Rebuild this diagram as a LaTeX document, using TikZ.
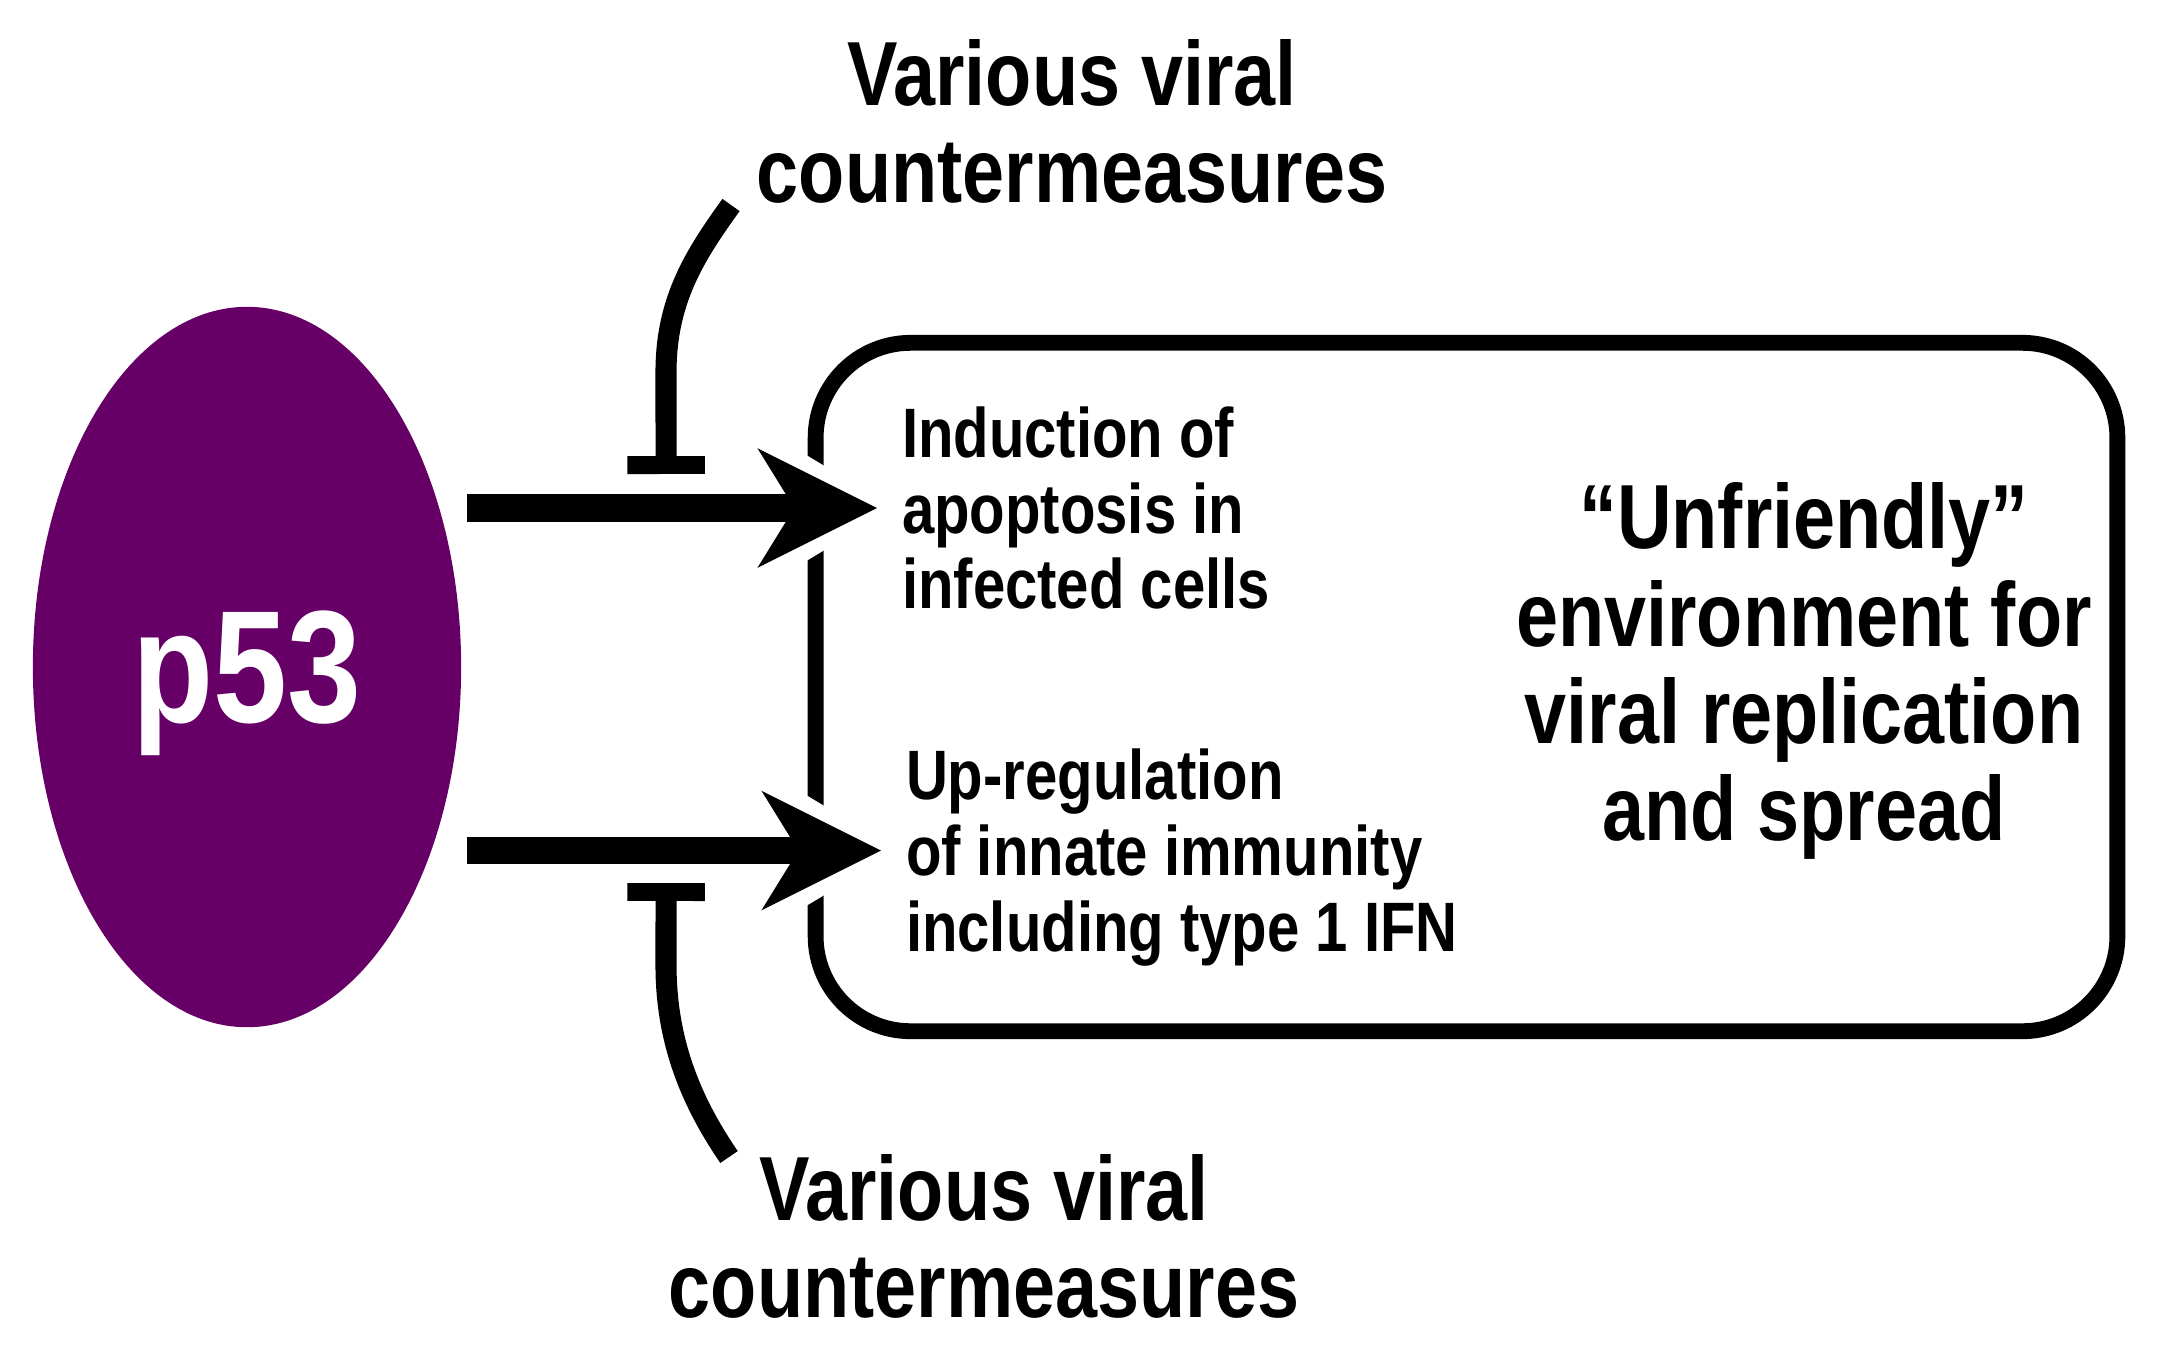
\documentclass[tikz,border=0pt]{standalone}
\usepackage{fontspec}
\setmainfont{Liberation Sans}[FakeStretch=0.83]
\usetikzlibrary{arrows.meta,shapes.geometric}
\definecolor{ppurple}{HTML}{660066}
\begin{document}
\begin{tikzpicture}[x=0.01cm,y=-0.01cm,
    txt/.style={inner sep=0pt, font=\bfseries\fontsize{19.9}{21.6}\selectfont, align=left},
    big/.style={inner sep=0pt, font=\bfseries\fontsize{25.9}{27.6}\selectfont, align=center},
    act/.style={line width=7.7pt, -{Stealth[length=34pt,width=34pt,inset=10.5pt,line width=0pt]},
      preaction={draw=white, line width=7.7pt, shorten >=-5pt,
        -{Stealth[length=45pt,width=54pt,inset=14pt,line width=0pt]}}},
    inh/.style={line width=6pt, -{Rectangle[length=5.1pt,width=22pt,line width=0pt]}}]
  \useasboundingbox (0,0) rectangle (2158,1366);
  \node [draw, line width=4.5pt, rounded corners=0.95cm, minimum width=13.01cm,
    minimum height=6.88cm] (env) at (1466.5,687) {};
  \node [ellipse, fill=ppurple, minimum width=4.28cm, minimum height=7.2cm, inner sep=0pt,
    outer sep=0.06cm, text=white, text depth=0pt,
    font=\bfseries\fontsize{45.5}{50}\selectfont] (p53) at (247,667) {p53};
  \node [txt, anchor=west, outer sep=0.25cm] (apop) at (877,508) {Induction of\\apoptosis in\\infected cells};
  \node [txt, anchor=west, outer sep=0.25cm, text depth=0pt] (upreg) at (881,850.5) {Up-regulation\\of innate immunity\\including type 1 IFN};
  \node [big] (envtxt) at (1804,671) {“Unfriendly”\\environment for\\viral replication\\and spread};
  \node [big] (vir1) at (1072,121) {Various viral\\countermeasures};
  \node [big] (vir2) at (984,1236) {Various viral\\countermeasures};
  \coordinate (cm1) at (731,205);
  \coordinate (cm2) at (729,1157);
  \draw [act] (p53.east |- apop.west) -- coordinate[pos=.4854] (mid1) (apop.west);
  \draw [act] (p53.east |- upreg.west) -- coordinate[pos=.4807] (mid2) (upreg.west);
  \draw [inh] (cm1) .. controls (695,255) and (666,300) .. (666,372) -- ([yshift=0.34cm]mid1);
  \draw [inh] (cm2) .. controls (690,1100) and (666,1040) .. (666,965) -- ([yshift=-0.325cm]mid2);
\end{tikzpicture}
\end{document}
